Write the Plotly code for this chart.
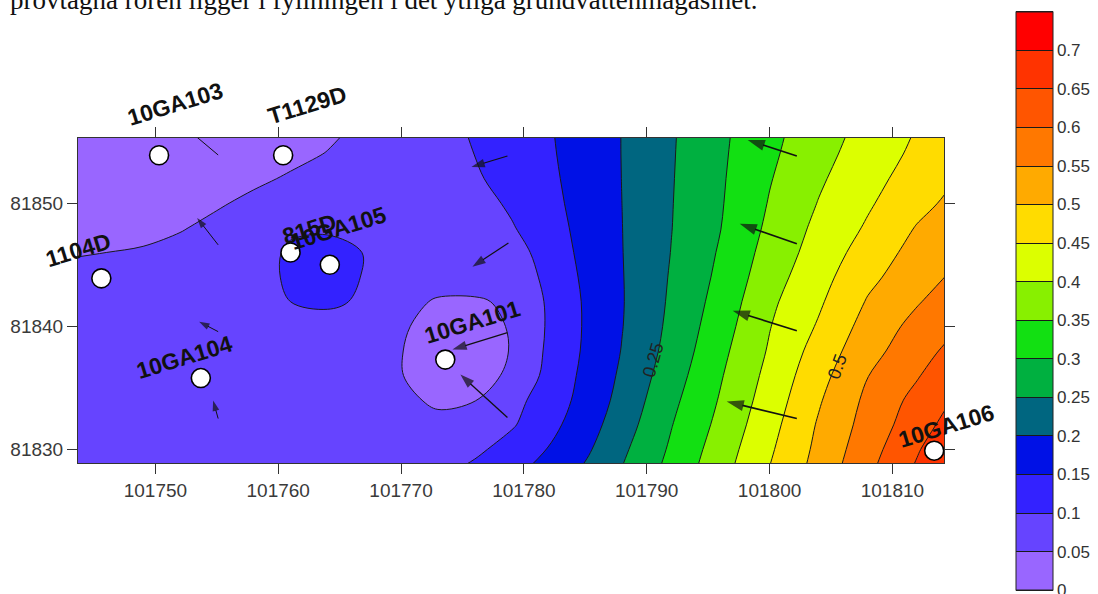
import plotly.graph_objects as go

# ---------------------------------------------------------------------------
# Gridded concentration surface (local site coordinates, m)
# ---------------------------------------------------------------------------
grid_x = [101743, 101746, 101749, 101752, 101755, 101758, 101761, 101764, 101767,
          101770, 101773, 101776, 101779, 101782, 101785, 101788, 101792, 101796,
          101800, 101804, 101808, 101812, 101815]
grid_y = [81828, 81830, 81832, 81834, 81836, 81838, 81840, 81842, 81844,
          81846, 81848, 81850, 81852, 81854, 81856]

# one row per grid_y value (south -> north), one column per grid_x value
conc = [
    [0.068, 0.071, 0.074, 0.076, 0.077, 0.078, 0.079, 0.080, 0.081, 0.083, 0.0925, 0.1166, 0.141, 0.1725, 0.210, 0.254, 0.317, 0.384, 0.453, 0.520, 0.592, 0.660, 0.698],
    [0.067, 0.070, 0.073, 0.075, 0.076, 0.077, 0.078, 0.078, 0.077, 0.074, 0.070, 0.0894, 0.1205, 0.152, 0.191, 0.241, 0.307, 0.374, 0.443, 0.512, 0.580, 0.645, 0.695],
    [0.066, 0.069, 0.072, 0.074, 0.075, 0.076, 0.077, 0.077, 0.075, 0.068, 0.060, 0.066, 0.0946, 0.135, 0.177, 0.227, 0.298, 0.363, 0.433, 0.505, 0.569, 0.628, 0.671],
    [0.065, 0.068, 0.071, 0.073, 0.074, 0.075, 0.075, 0.075, 0.072, 0.058, 0.044, 0.049, 0.083, 0.124, 0.166, 0.216, 0.288, 0.354, 0.423, 0.495, 0.561, 0.615, 0.653],
    [0.064, 0.067, 0.070, 0.072, 0.073, 0.073, 0.073, 0.072, 0.068, 0.051, 0.036, 0.040, 0.0544, 0.1149, 0.1614, 0.208, 0.277, 0.346, 0.414, 0.483, 0.549, 0.596, 0.637],
    [0.063, 0.066, 0.069, 0.071, 0.071, 0.069, 0.072, 0.072, 0.066, 0.051, 0.034, 0.035, 0.0514, 0.1084, 0.1567, 0.202, 0.267, 0.3375, 0.405, 0.470, 0.533, 0.579, 0.615],
    [0.062, 0.065, 0.068, 0.070, 0.070, 0.062, 0.084, 0.082, 0.076, 0.054, 0.038, 0.036, 0.0528, 0.1051, 0.1549, 0.1987, 0.261, 0.328, 0.398, 0.455, 0.519, 0.565, 0.593],
    [0.060, 0.062, 0.066, 0.069, 0.071, 0.068, 0.100, 0.108, 0.094, 0.062, 0.046, 0.044, 0.058, 0.1059, 0.1555, 0.1974, 0.257, 0.319, 0.390, 0.443, 0.504, 0.546, 0.576],
    [0.055, 0.058, 0.062, 0.066, 0.070, 0.074, 0.110, 0.117, 0.098, 0.072, 0.068, 0.074, 0.065, 0.1133, 0.159, 0.198, 0.254, 0.311, 0.379, 0.432, 0.488, 0.529, 0.557],
    [0.0485, 0.050, 0.052, 0.0585, 0.065, 0.076, 0.108, 0.115, 0.099, 0.080, 0.072, 0.075, 0.078, 0.1216, 0.163, 0.199, 0.251, 0.305, 0.369, 0.421, 0.472, 0.517, 0.540],
    [0.039, 0.041, 0.044, 0.048, 0.057, 0.066, 0.092, 0.094, 0.088, 0.080, 0.075, 0.080, 0.096, 0.1305, 0.165, 0.1996, 0.249, 0.299, 0.360, 0.412, 0.456, 0.503, 0.526],
    [0.036, 0.037, 0.039, 0.042, 0.047, 0.056, 0.064, 0.070, 0.070, 0.071, 0.074, 0.080, 0.108, 0.137, 0.167, 0.2002, 0.248, 0.296, 0.353, 0.402, 0.444, 0.485, 0.512],
    [0.034, 0.034, 0.035, 0.037, 0.040, 0.045, 0.053, 0.062, 0.068, 0.072, 0.080, 0.094, 0.1175, 0.141, 0.169, 0.2007, 0.247, 0.294, 0.347, 0.393, 0.434, 0.471, 0.498],
    [0.032, 0.032, 0.033, 0.034, 0.036, 0.039, 0.043, 0.051, 0.062, 0.070, 0.080, 0.1005, 0.122, 0.144, 0.171, 0.201, 0.246, 0.292, 0.341, 0.384, 0.424, 0.460, 0.484],
    [0.030, 0.030, 0.031, 0.032, 0.034, 0.037, 0.041, 0.044, 0.055, 0.070, 0.085, 0.105, 0.125, 0.146, 0.173, 0.201, 0.245, 0.290, 0.336, 0.377, 0.415, 0.452, 0.473],
]

# contour levels and the fill colour of each band (0-0.05, 0.05-0.1, ...)
level_start = 0.0
level_end = 0.75
level_step = 0.05
band_colors = ["#9966FF", "#6644FF", "#3322FF", "#0011E6", "#006680",
               "#00B040", "#12E012", "#88F000", "#DCFF00", "#FFDC00",
               "#FFAA00", "#FF7800", "#FF5500", "#FF3300", "#FF0000"]
colorbar_ticks = [0, 0.05, 0.1, 0.15, 0.2, 0.25, 0.3, 0.35, 0.4, 0.45,
                  0.5, 0.55, 0.6, 0.65, 0.7]
colorbar_ticktext = ["0", "0.05", "0.1", "0.15", "0.2", "0.25", "0.3", "0.35",
                     "0.4", "0.45", "0.5", "0.55", "0.6", "0.65", "0.7"]

# labelled contour lines
contour_label_values = [0.25, 0.5]
contour_label_x = [101790.5, 101805.5]
contour_label_y = [81837.3, 81836.7]

# axis ticks
x_ticks = [101750, 101760, 101770, 101780, 101790, 101800, 101810]
y_ticks = [81830, 81840, 81850]

# ---------------------------------------------------------------------------
# Sampling wells
# ---------------------------------------------------------------------------
well_names = ["10GA103", "T1129D", "815D", "10GA105", "1104D", "10GA104",
              "10GA101", "10GA106"]
well_x = [101750.3, 101760.4, 101761.0, 101764.2, 101745.6, 101753.7,
          101773.6, 101813.4]
well_y = [81853.9, 81853.9, 81846.0, 81845.0, 81843.9, 81835.8,
          81837.3, 81829.9]

# ---------------------------------------------------------------------------
# Groundwater flow arrows (tail -> head)
# ---------------------------------------------------------------------------
arrow_tail_x = [101755.11, 101755.11, 101755.11, 101755.11,
                101778.66, 101778.74, 101778.66, 101778.66,
                101802.22, 101802.22, 101802.22, 101802.22]
arrow_tail_y = [81853.92, 81846.62, 81839.57, 81832.51,
                81853.84, 81846.78, 81839.49, 81832.59,
                81853.84, 81846.70, 81839.65, 81832.51]
arrow_head_x = [101752.63, 101753.40, 101753.56, 101754.70,
                101775.73, 101775.81, 101774.18, 101774.83,
                101798.22, 101797.57, 101797.00, 101796.51]
arrow_head_y = [81856.00, 81848.81, 81840.38, 81833.97,
                81852.95, 81844.84, 81838.11, 81836.08,
                81855.14, 81848.33, 81841.27, 81833.89]

caption = "provtagna rören ligger i fyllningen i det ytliga grundvattenmagasinet."

# ---------------------------------------------------------------------------
# Styling
# ---------------------------------------------------------------------------
W, H = 1098, 594
PLOT_L, PLOT_R, PLOT_T, PLOT_B = 78, 944, 138, 463
PLOT_W, PLOT_H = PLOT_R - PLOT_L, PLOT_B - PLOT_T
SANS = "Liberation Sans, Arial, sans-serif"


def paper_y(py):
    """Pixel row (from top of page) -> paper y coordinate."""
    return (PLOT_B - py) / PLOT_H


# plotly's fill colour map spans one extra band on each side of the levels
n_slots = len(band_colors) + 1
colorscale = [[0.0, "white"], [0.5 / n_slots, "white"]]
for k, col in enumerate(band_colors):
    colorscale.append([(k + 0.5) / n_slots, col])
    colorscale.append([(k + 1.5) / n_slots, col])
colorscale += [[(n_slots - 0.5) / n_slots, "white"], [1.0, "white"]]

bar_top, bar_bottom = 11.7, 590.0
band_px = (bar_bottom - bar_top) / len(band_colors)
bar_x = 1016 / W

head_sizes = [11, 11, 11, 11, 14, 14, 15, 15, 18, 18, 18, 18]
shaft_widths = [1.0, 1.0, 1.0, 1.0, 1.2, 1.2, 1.3, 1.3, 1.6, 1.6, 1.6, 1.6]

label_shift = {  # pixel offset of each well label from its well marker
    "10GA103": (16, 51), "T1129D": (24, 50), "815D": (19, 23),
    "10GA105": (9, 37), "1104D": (-23, 28), "10GA104": (-16, 21),
    "10GA101": (27, 38), "10GA106": (12, 25),
}

fig = go.Figure()

fig.add_trace(go.Contour(
    x=grid_x, y=grid_y, z=conc,
    autocontour=False,
    contours=dict(start=level_start, end=level_end, size=level_step,
                  coloring="fill", showlines=True),
    line=dict(color="#1a1a1a", width=1, smoothing=1),
    colorscale=colorscale,
    hoverinfo="skip",
    colorbar=dict(
        x=bar_x, xref="container", xanchor="left", xpad=0,
        y=paper_y(bar_top - band_px / 2), yref="paper", yanchor="top", ypad=0,
        lenmode="pixels", len=band_px * (len(band_colors) + 1),
        thicknessmode="pixels", thickness=37,
        outlinewidth=0,
        tickmode="array", tickvals=colorbar_ticks, ticktext=colorbar_ticktext,
        ticks="", ticklabeloverflow="allow",
        tickfont=dict(family=SANS, size=17, color="#333333"),
    ),
))

# outline of the colour bar (0 .. 0.75)
fig.add_trace(go.Scatter(
    x=[grid_x[0]], y=[grid_y[0]], mode="markers",
    marker=dict(color=[level_start], cmin=level_start, cmax=level_end,
                colorscale=[[0, "rgba(0,0,0,0)"], [1, "rgba(0,0,0,0)"]],
                size=1, showscale=True,
                colorbar=dict(
                    x=bar_x, xref="container", xanchor="left", xpad=0,
                    y=paper_y(bar_top), yref="paper", yanchor="top", ypad=0,
                    lenmode="pixels", len=bar_bottom - bar_top,
                    thicknessmode="pixels", thickness=37,
                    outlinewidth=1, outlinecolor="#222222",
                    showticklabels=False, ticks="",
                )),
    hoverinfo="skip", showlegend=False,
))

# flow arrows
for i in range(len(arrow_tail_x)):
    fig.add_trace(go.Scatter(
        x=[arrow_tail_x[i], arrow_head_x[i]],
        y=[arrow_tail_y[i], arrow_head_y[i]],
        mode="lines+markers",
        line=dict(color="#111111", width=shaft_widths[i]),
        marker=dict(symbol="arrow", angleref="previous",
                    size=[0, head_sizes[i]], color="#111111",
                    line=dict(width=0)),
        hoverinfo="skip", showlegend=False, cliponaxis=True,
    ))

# wells
fig.add_trace(go.Scatter(
    x=well_x, y=well_y, mode="markers",
    marker=dict(size=19, color="white", line=dict(color="black", width=1.6)),
    hoverinfo="skip", showlegend=False, cliponaxis=False,
))

for name, wx, wy in zip(well_names, well_x, well_y):
    dx, dy = label_shift[name]
    fig.add_annotation(
        x=wx, y=wy, xref="x", yref="y", text=f"<b>{name}</b>",
        showarrow=False, xshift=dx, yshift=dy, textangle=-17,
        xanchor="center", yanchor="middle",
        font=dict(family=SANS, size=23, color="#111111"),
    )

for v, lx, ly, ang in zip(contour_label_values, contour_label_x,
                          contour_label_y, [-74, -70]):
    fig.add_annotation(
        x=lx, y=ly, xref="x", yref="y", text=f"{v:g}", showarrow=False,
        textangle=ang, font=dict(family=SANS, size=18, color="#222222"),
    )

fig.add_annotation(
    text=caption, xref="paper", yref="paper",
    x=(8 - PLOT_L) / PLOT_W, y=paper_y(0.3),
    xanchor="left", yanchor="middle", showarrow=False,
    font=dict(family="Liberation Serif, Times New Roman, serif", size=27,
              color="#111111"),
)

axis_common = dict(
    showgrid=False, zeroline=False, showline=True, linecolor="#333333",
    linewidth=1, mirror="ticks", ticks="outside", ticklen=10,
    tickcolor="#333333", tickwidth=1, automargin=False,
    tickfont=dict(family=SANS, size=19, color="#3a3a3a"),
)

fig.update_layout(
    width=W, height=H,
    margin=dict(l=PLOT_L, r=W - PLOT_R, t=PLOT_T, b=H - PLOT_B,
                autoexpand=False),
    paper_bgcolor="white", plot_bgcolor="white",
    showlegend=False,
    xaxis=dict(range=[101743.7, 101814.2], tickmode="array", tickvals=x_ticks,
               tickformat="d", **axis_common),
    yaxis=dict(range=[81828.9, 81855.3], tickmode="array", tickvals=y_ticks,
               tickformat="d", **axis_common),
)

fig.write_html("out.html")
